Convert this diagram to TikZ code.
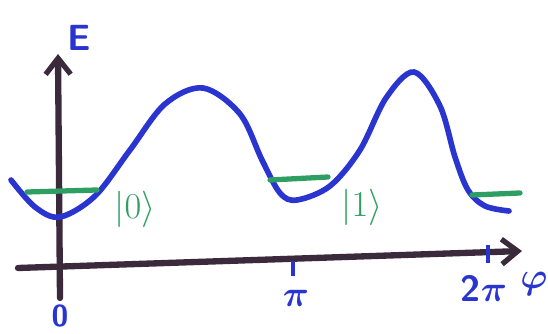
\documentclass[tikz,border=0pt]{standalone}
\usepackage{amsmath}
\usepackage{bm}
\usetikzlibrary{arrows.meta}
\definecolor{axisink}{HTML}{3A2A3C}
\definecolor{blueink}{HTML}{2A35D0}
\definecolor{greenink}{HTML}{2E9E62}
\begin{document}
\begin{tikzpicture}[
    x=0.02cm, y=-0.02cm,
    axis/.style={line width=3.6pt, draw=axisink, line cap=round,
        -{Straight Barb[length=0.32cm, width=0.5cm, line width=3pt]}},
    potential/.style={line width=3.2pt, draw=blueink, line cap=round},
    level/.style={line width=3pt, draw=greenink, line cap=round},
    tick/.style={line width=2.6pt, draw=blueink},
    label/.style={font=\huge\bfseries\sffamily, text=blueink, inner sep=0pt},
    state/.style={font=\huge, text=greenink, inner sep=0pt},
]
    \useasboundingbox (0,0) rectangle (548,334);

    % axes
    \coordinate (ybot) at (60,298);
    \coordinate (ytop) at (58,54);
    \coordinate (xleft) at (18,268);
    \coordinate (xright) at (522,251);
    \draw[axis] (ybot) -- (ytop);
    \draw[axis] (xleft) -- (xright);

    % potential
    \draw[potential] plot[smooth, tension=0.55] coordinates {
        (11,180) (35,207) (60,217) (95,196) (130,150) (165,104) (203,88)
        (240,114) (262,160) (280,193) (297,200) (330,186) (360,150)
        (386,98) (414,72) (440,106) (455,157) (468,190) (485,206) (509,211)};

    % energy levels
    \draw[level] (27,192) -- (97,190);
    \draw[level] (270,180) -- (328,177);
    \draw[level] (472,195) -- (520,193);

    % ticks
    \draw[tick] (293,261) -- (293,276);
    \draw[tick] (488,245) -- (488,263);

    % labels
    \node[label] (elabel) at (79,38) {E};
    \node[label, font=\LARGE\bfseries\sffamily] (zero) at (60,316) {0};
    \node[label] (pi) at (296,298) {$\bm{\pi}$};
    \node[label] (twopi) at (484,288) {2$\bm{\pi}$};
    \node[label] (phi) at (534,284) {$\bm{\varphi}$};
    \node[state] (ground) at (135,209) {$|0\rangle$};
    \node[state] (excited) at (362,207) {$|1\rangle$};
\end{tikzpicture}
\end{document}
